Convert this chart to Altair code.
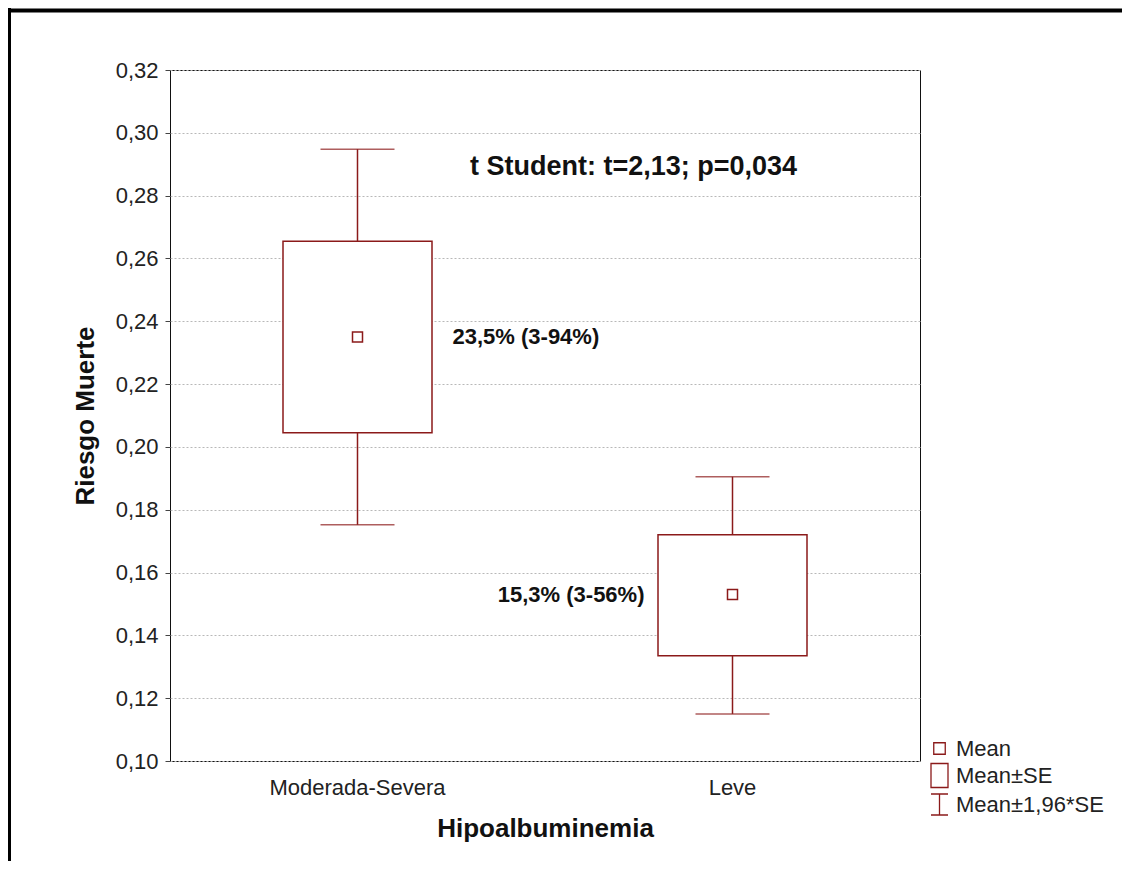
import altair as alt
import pandas as pd

categories = ["Moderada-Severa", "Leve"]
mean_vals = [0.235, 0.153]
se_lo = [0.2045, 0.1335]
se_hi = [0.2655, 0.1720]
ci_lo = [0.1752, 0.1150]
ci_hi = [0.2948, 0.1905]
box_labels = ["23,5% (3-94%)", "15,3% (3-56%)"]

y_ticks = [0.10, 0.12, 0.14, 0.16, 0.18, 0.20, 0.22, 0.24, 0.26, 0.28, 0.30, 0.32]

title_text = "t Student: t=2,13; p=0,034"
title_cat = "Leve"
title_y = 0.289

legend_items = ["Mean", "Mean±SE", "Mean±1,96*SE"]
legend_paths = [
    "M-0.46,-0.46H0.46V0.46H-0.46Z",
    "M-0.68,-0.96H0.68V0.96H-0.68Z",
    "M-0.68,-0.84H0.68M0,-0.84V0.84M-0.68,0.84H0.68",
]

RED = "#8B1A1A"
FONT = "Liberation Sans"

df = pd.DataFrame({
    "cat": categories,
    "mean": mean_vals,
    "se_lo": se_lo,
    "se_hi": se_hi,
    "ci_lo": ci_lo,
    "ci_hi": ci_hi,
    "lab": box_labels,
})

xenc = alt.X(
    "cat:N",
    sort=categories,
    scale=alt.Scale(paddingInner=0, paddingOuter=0),
    axis=alt.Axis(
        title="Hipoalbuminemia",
        labelAngle=0,
        labelFontSize=22,
        labelPadding=16,
        titleFontSize=26,
        titleFontWeight="bold",
        titlePadding=17,
        grid=False,
        domain=False,
        ticks=False,
        labelColor="#222222",
        titleColor="#111111",
        labelFont=FONT,
        titleFont=FONT,
    ),
)
yscale = alt.Scale(domain=[0.10, 0.32], nice=False, zero=False)
yaxis = alt.Axis(
    title="Riesgo Muerte",
    values=y_ticks,
    labelExpr="replace(format(datum.value, '.2f'), '.', ',')",
    labelFontSize=22,
    labelPadding=7,
    titleFontSize=26,
    titleFontWeight="bold",
    titlePadding=17,
    grid=True,
    gridColor="#b8b8b8",
    gridDash=[2, 2],
    gridWidth=1,
    domain=False,
    tickSize=5,
    tickColor="#444444",
    labelColor="#222222",
    titleColor="#111111",
    labelFont=FONT,
    titleFont=FONT,
)

base = alt.Chart(df)

whisk_top = base.mark_rule(color=RED, strokeWidth=1.5).encode(
    x=xenc, y=alt.Y("se_hi:Q", scale=yscale, axis=yaxis), y2="ci_hi:Q")
whisk_bot = base.mark_rule(color=RED, strokeWidth=1.5).encode(
    x=xenc, y=alt.Y("ci_lo:Q", scale=yscale, axis=yaxis), y2="se_lo:Q")
cap_top = base.mark_tick(color=RED, size=74, thickness=1.5).encode(
    x=xenc, y=alt.Y("ci_hi:Q", scale=yscale, axis=yaxis))
cap_bot = base.mark_tick(color=RED, size=74, thickness=1.5).encode(
    x=xenc, y=alt.Y("ci_lo:Q", scale=yscale, axis=yaxis))
box = base.mark_bar(size=149, fill="white", stroke=RED, strokeWidth=1.5).encode(
    x=xenc, y=alt.Y("se_lo:Q", scale=yscale, axis=yaxis), y2="se_hi:Q")
meanpt = base.mark_square(size=100, filled=False, color=RED, strokeWidth=1.5, opacity=1).encode(
    x=xenc, y=alt.Y("mean:Q", scale=yscale, axis=yaxis))

lab_left = alt.Chart(df.iloc[[0]]).mark_text(
    align="left", baseline="middle", dx=95, fontSize=22, fontWeight="bold", font=FONT, color="#111111"
).encode(x=xenc, y=alt.Y("mean:Q", scale=yscale, axis=yaxis), text="lab:N")
lab_right = alt.Chart(df.iloc[[1]]).mark_text(
    align="right", baseline="middle", dx=-88, fontSize=22, fontWeight="bold", font=FONT, color="#111111"
).encode(x=xenc, y=alt.Y("mean:Q", scale=yscale, axis=yaxis), text="lab:N")

tdf = pd.DataFrame({"cat": [title_cat], "y": [title_y], "t": [title_text]})
ttext = alt.Chart(tdf).mark_text(
    align="center", baseline="middle", dx=-99, fontSize=27, fontWeight="bold", font=FONT, color="#111111"
).encode(x=xenc, y=alt.Y("y:Q", scale=yscale, axis=yaxis), text="t:N")

ldf = pd.DataFrame({"item": legend_items, "cat": [categories[0]] * 3, "mean": [mean_vals[0]] * 3})
legend_layer = alt.Chart(ldf).mark_point(size=0, filled=False, color=RED, strokeWidth=0).encode(
    x=xenc,
    y=alt.Y("mean:Q", scale=yscale, axis=yaxis),
    shape=alt.Shape(
        "item:N",
        scale=alt.Scale(domain=legend_items, range=legend_paths),
        legend=alt.Legend(
            title=None,
            orient="none",
            legendX=756,
            legendY=665,
            padding=0,
            symbolSize=625,
            symbolStrokeColor=RED,
            symbolFillColor="transparent",
            symbolStrokeWidth=1.3,
            symbolOpacity=1,
            labelFontSize=22,
            labelFont=FONT,
            labelColor="#222222",
            labelOffset=3,
            rowPadding=0,
            labelLimit=300,
        ),
    ),
)

one = pd.DataFrame({"a": [0]})
frame_top = alt.Chart(one).mark_rule(color="black", strokeWidth=4).encode(
    x=alt.value(-170), x2=alt.value(970), y=alt.value(-59.5))
frame_left = alt.Chart(one).mark_rule(color="black", strokeWidth=4).encode(
    x=alt.value(-161), y=alt.value(-62), y2=alt.value(820))

chart = alt.layer(
    whisk_top, whisk_bot, cap_top, cap_bot, box, meanpt, lab_left, lab_right, ttext,
    legend_layer, frame_top, frame_left,
).properties(
    width=750,
    height=691,
    autosize=alt.AutoSizeParams(type="none"),
    padding={"left": 162, "top": 62, "right": 202, "bottom": 100},
    background="white",
).configure(
    font=FONT,
    view=alt.ViewConfig(stroke="#111111", strokeWidth=1),
)

chart.save("out.html", embed_options={"renderer": "svg", "actions": False})
